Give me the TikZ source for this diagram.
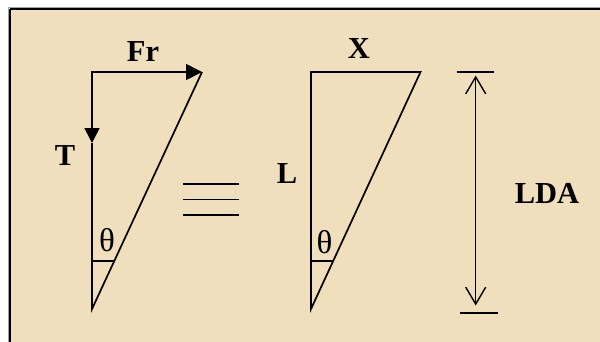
\documentclass[tikz,border=0pt]{standalone}
\usepackage{fontspec}
\setmainfont{Liberation Serif}
\usetikzlibrary{arrows.meta,calc}
\definecolor{parch}{RGB}{240,223,188}
\definecolor{framegray}{RGB}{160,160,160}
\tikzset{
  lbl/.style={font=\fontsize{30.5}{36}\selectfont\bfseries, inner sep=0pt},
  thlbl/.style={font=\fontsize{33}{38}\selectfont, inner sep=0pt},
  ln/.style={line width=1.7pt, line join=miter}
}
\begin{document}
\begin{tikzpicture}[x=1pt,y=-1pt]
\useasboundingbox (0,0) rectangle (600,341);
\fill[white] (0,0) rectangle (600,341);
\fill[parch] (10,8.7) rectangle (602,343);
\draw[framegray, line width=1pt] (8.8,7.2) -- (8.8,343);
\draw[framegray, line width=1pt] (8.8,7.2) -- (602,7.2);
\draw[black, line width=2pt] (10.3,8.7) -- (10.3,343);
\draw[black, line width=2pt] (10.3,8.7) -- (602,8.7);

% left triangle
\coordinate (A) at (92,72);
\coordinate (B) at (202,72);
\coordinate (C) at (92,309);
\coordinate (Tm) at (92,143);
\draw[ln, {Triangle[length=15pt,width=15pt]}-{Triangle[length=16pt,width=16pt]}] (Tm) -- (A) -- (B);
\draw[ln] (Tm) -- (C) -- (B);
\coordinate (a1) at (92,261);
\coordinate (a2) at ($(C)!0.2025!(B)$);
\draw[ln] (a1) -- (a2);
\node[lbl] (fr) at (143,52) {Fr};
\node[lbl] (t) at (65,156) {T};
\node[thlbl] (th1) at (107,240) {θ};

% equivalence
\coordinate (e1) at (183,184);
\coordinate (e2) at (183,199.5);
\coordinate (e3) at (183,215);
\draw[ln] (e1) -- ++(56,0);
\draw[ln] (e2) -- ++(56,0);
\draw[ln] (e3) -- ++(56,0);

% right triangle
\coordinate (P) at (311,72);
\coordinate (Q) at (420.5,72);
\coordinate (R) at (311,309);
\draw[ln] (P) -- (Q) -- (R) -- cycle;
\coordinate (b1) at (311,261);
\coordinate (b2) at ($(R)!0.2025!(Q)$);
\draw[ln] (b1) -- (b2);
\node[lbl] (x) at (359,49) {X};
\node[lbl] (l) at (287,174) {L};
\node[thlbl] (th2) at (324.5,242) {θ};

% dimension
\coordinate (d1) at (475.7,75.5);
\coordinate (d2) at (475.7,305.5);
\coordinate (t1) at (456.5,71.7);
\coordinate (t2) at (494,71.7);
\coordinate (u1) at (460,313.3);
\coordinate (u2) at (498.3,313.3);
\draw[ln] (t1) -- (t2);
\draw[ln] (u1) -- (u2);
\draw[line width=1.4pt, {Straight Barb[length=17pt,width=20pt]}-{Straight Barb[length=17pt,width=20pt]}] (d1) -- (d2);
\node[lbl] (lda) at (547,193) {LDA};
\end{tikzpicture}
\end{document}
